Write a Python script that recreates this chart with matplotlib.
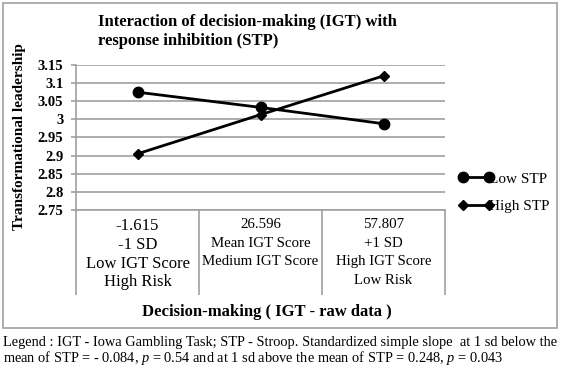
import matplotlib.pyplot as plt
from matplotlib.patches import Rectangle

categories = ['-1.615\n-1 SD\nLow IGT Score\nHigh Risk',
              '26.596\nMean IGT Score\nMedium IGT Score\n ',
              '57.807\n+1 SD\nHigh IGT Score\nLow Risk']
low_stp = [3.075, 3.033, 2.988]
high_stp = [2.905, 3.013, 3.12]
yticks = [2.75, 2.8, 2.85, 2.9, 2.95, 3.0, 3.05, 3.1, 3.15]
ytick_labels = ['2.75', '2.8', '2.85', '2.9', '2.95', '3', '3.05', '3.1', '3.15']

serif = 'Liberation Serif'
grey = '#a0a0a0'
plt.rcParams['mathtext.fontset'] = 'custom'
plt.rcParams['mathtext.it'] = 'Liberation Serif:italic'
plt.rcParams['mathtext.rm'] = 'Liberation Serif'

W, H = 562, 371
fig = plt.figure(figsize=(W / 100, H / 100), dpi=100)
ax = fig.add_axes([76 / W, 1 - 210 / H, 369 / W, 145 / H])

x = range(len(categories))
ax.plot(x, low_stp, color='black', lw=2, marker='o', ms=7.5, label='Low STP')
ax.plot(x, high_stp, color='black', lw=2, marker='D', ms=5.5, label='High STP')

ax.set_xlim(-0.5, 2.5)
ax.set_ylim(2.75, 3.15)
ax.set_yticks(yticks)
ax.set_yticklabels(ytick_labels, family=serif, fontsize=10.5, fontweight='bold')
ax.yaxis.grid(True, color=grey, lw=1.2)
ax.set_axisbelow(True)
for s in ['top', 'right']:
    ax.spines[s].set_visible(False)
for s in ['left', 'bottom']:
    ax.spines[s].set_color(grey)
    ax.spines[s].set_linewidth(1.2)
ax.tick_params(axis='y', length=3.6, color=grey, width=1.2, pad=5.5)

# category boundaries drawn as long ticks, labels in between
ax.set_xticks([-0.5, 0.5, 1.5, 2.5])
ax.set_xticklabels([])
ax.tick_params(axis='x', which='major', length=61, color=grey, width=1.2)
ax.set_xticks([0, 1, 2], minor=True)
ax.set_xticklabels(categories, minor=True, family=serif, fontsize=10.7,
                   linespacing=1.55, va='top')
ax.tick_params(axis='x', which='minor', length=0, pad=6)
lab0 = ax.xaxis.get_minorticklabels()[0]
lab0.set_fontsize(12)
lab0.set_linespacing(1.22)

fig.text(142 / W, 1 - 312 / H, 'Decision-making ( IGT - raw data )', family=serif,
         fontweight='bold', fontsize=12, va='center', ha='left')
fig.text(20 / W, 1 - 137 / H, 'Transformational leadership', family=serif,
         fontweight='bold', fontsize=11, rotation=90, va='center', ha='center')

fig.text(98 / W, 1 - 45 / H, 'Interaction of decision-making (IGT) with\nresponse inhibition (STP)',
         family=serif, fontweight='bold', fontsize=12, va='baseline',
         linespacing=1.27, ma='left')

leg = ax.legend(loc='upper left', bbox_to_anchor=(458 / W, 1 - 172 / H),
                bbox_transform=fig.transFigure, frameon=False, borderpad=0,
                borderaxespad=0, numpoints=2,
                prop={'family': serif, 'size': 11}, handlelength=2.3,
                handletextpad=-0.3, labelspacing=0.89)

fig.add_artist(Rectangle((3 / W, 1 - 328 / H), 554 / W, 325 / H,
                         transform=fig.transFigure, fill=False,
                         edgecolor=grey, lw=1.2))

fig.text(3 / W, 1 - 351.5 / H, 'Legend : IGT - Iowa Gambling Task; STP - Stroop. Standardized simple slope  at 1 sd below the\n'
         'mean of STP = - 0.084, $p$ = 0.54 and at 1 sd above the mean of STP = 0.248, $p$ = 0.043',
         family=serif, fontsize=10.35, va='center', linespacing=1.0)

plt.savefig('out.png', dpi=100)
